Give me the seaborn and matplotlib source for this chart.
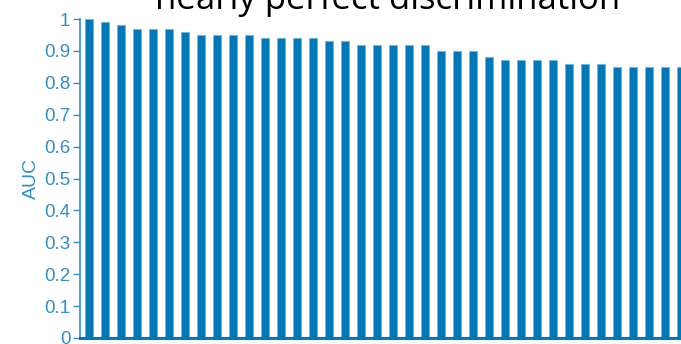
"""AUC per model, sorted, bar chart (cropped view)."""

import matplotlib

matplotlib.use("Agg")
import matplotlib.pyplot as plt
import pandas as pd
import seaborn as sns

# data
models = [f"m{i:02d}" for i in range(1, 39)]
auc = [
    1.00, 0.99, 0.98, 0.97, 0.97, 0.97, 0.96, 0.95, 0.95, 0.95,
    0.95, 0.94, 0.94, 0.94, 0.94, 0.93, 0.93, 0.92, 0.92, 0.92,
    0.92, 0.92, 0.90, 0.90, 0.90, 0.88, 0.87, 0.87, 0.87, 0.87,
    0.86, 0.86, 0.86, 0.85, 0.85, 0.85, 0.85, 0.85,
]
yticks = [0, 0.1, 0.2, 0.3, 0.4, 0.5, 0.6, 0.7, 0.8, 0.9, 1]
ytick_labels = ["0", "0.1", "0.2", "0.3", "0.4", "0.5", "0.6", "0.7", "0.8", "0.9", "1"]
title = "nearly perfect discrimination"

BAR = "#0079b6"
AXIS = "#2f8fc9"

sns.set_style("white")
plt.rcParams["font.family"] = ["Liberation Sans", "DejaVu Sans"]

df = pd.DataFrame({"model": models, "auc": auc})

W, H = 681, 344
fig = plt.figure(figsize=(W / 100, H / 100), dpi=100)
ax = fig.add_axes([80 / W, (H - 338) / H, (W - 80) / W, (338 - 19) / H])

sns.barplot(
    data=df,
    x="model",
    y="auc",
    color=BAR,
    saturation=1,
    width=0.5,
    edgecolor="#6fb3dc",
    linewidth=0.6,
    ax=ax,
)

ax.set_xlim(-0.5625, 37.0)
ax.set_ylim(0, 1)
ax.set_yticks(yticks)
ax.set_yticklabels(ytick_labels)
ax.set_xticks(range(len(models)))
ax.set_xticklabels([])
ax.set_xlabel("")
ax.set_ylabel("AUC", color=AXIS, fontsize=14, labelpad=3)

ax.tick_params(axis="y", colors=AXIS, labelsize=13.5, length=5, width=1, direction="out", left=True, pad=2)
ax.tick_params(axis="x", colors=AXIS, length=0)
for s in ["top", "right"]:
    ax.spines[s].set_visible(False)
ax.spines["left"].set_color(AXIS)
ax.spines["left"].set_linewidth(1.2)
ax.spines["bottom"].set_color(BAR)
ax.spines["bottom"].set_linewidth(2.2)

fig.text(388 / W, (H - 9) / H, title, ha="center", va="baseline",
         fontsize=25, color="black", family=["Open Sans", "DejaVu Sans"])

fig.savefig("out.png", dpi=100)
plt.close(fig)
